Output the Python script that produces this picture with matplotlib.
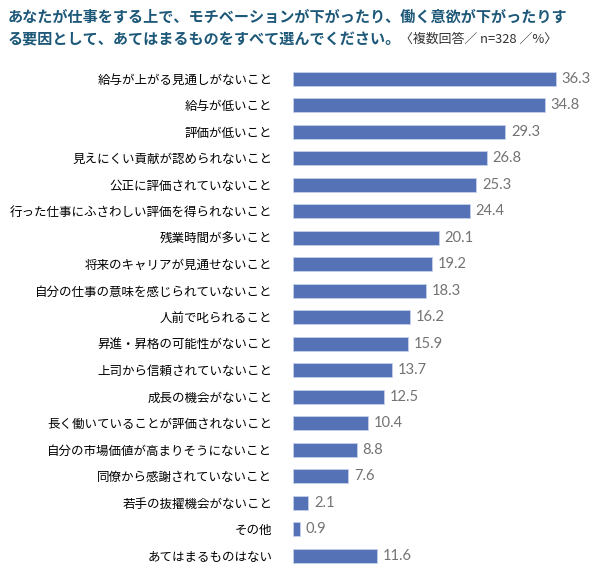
import matplotlib.pyplot as plt

plt.rcParams['font.family'] = ['Noto Sans CJK JP', 'DejaVu Sans']

# 項目と割合（%）
categories = [
    "給与が上がる見通しがないこと",
    "給与が低いこと",
    "評価が低いこと",
    "見えにくい貢献が認められないこと",
    "公正に評価されていないこと",
    "行った仕事にふさわしい評価を得られないこと",
    "残業時間が多いこと",
    "将来のキャリアが見通せないこと",
    "自分の仕事の意味を感じられていないこと",
    "人前で叱られること",
    "昇進・昇格の可能性がないこと",
    "上司から信頼されていないこと",
    "成長の機会がないこと",
    "長く働いていることが評価されないこと",
    "自分の市場価値が高まりそうにないこと",
    "同僚から感謝されていないこと",
    "若手の抜擢機会がないこと",
    "その他",
    "あてはまるものはない",
]
values = [36.3, 34.8, 29.3, 26.8, 25.3, 24.4, 20.1, 19.2, 18.3, 16.2,
          15.9, 13.7, 12.5, 10.4, 8.8, 7.6, 2.1, 0.9, 11.6]

bar_color = "#5572b6"
title_color = "#1d5878"
value_color = "#737373"

fig = plt.figure(figsize=(6, 5.73), dpi=100)
ax = fig.add_axes([293 / 600, 0.007, 307 / 600, 0.8788])

y = list(range(len(categories)))
ax.barh(y, values, height=0.53, color=bar_color, edgecolor="#c5d0ea", linewidth=0.6)
ax.set_ylim(len(categories) - 0.5, -0.5)
ax.set_xlim(0, 42.4)

for yi, v in zip(y, values):
    ax.text(v + 0.8, yi, f"{v}", va="center", ha="left", fontsize=10.6,
            color=value_color, family=["Lato", "DejaVu Sans"])

ax.set_yticks(y)
ax.set_yticklabels(categories, fontsize=9)
ax.tick_params(axis="y", length=0, pad=15)
ax.set_xticks([])
for s in ax.spines.values():
    s.set_visible(False)

fig.text(8 / 600, 1 - 17 / 573,
         "あなたが仕事をする上で、モチベーションが下がったり、働く意欲が下がったりす",
         fontsize=10.9, fontweight="bold", color=title_color, va="center", ha="left")
line2 = fig.text(8 / 600, 1 - 39 / 573,
                 "る要因として、あてはまるものをすべて選んでください。",
                 fontsize=10.9, fontweight="bold", color=title_color, va="center", ha="left")

# 副題はタイトル2行目の直後に置く
fig.canvas.draw()
end_x = line2.get_window_extent().x1 / fig.bbox.width
fig.text(end_x - 1 / 600, 1 - 39 / 573, "〈複数回答／ n=328 ／%〉",
         fontsize=9.3, color="#333333", va="center", ha="left")

fig.savefig("out.png", dpi=100)
